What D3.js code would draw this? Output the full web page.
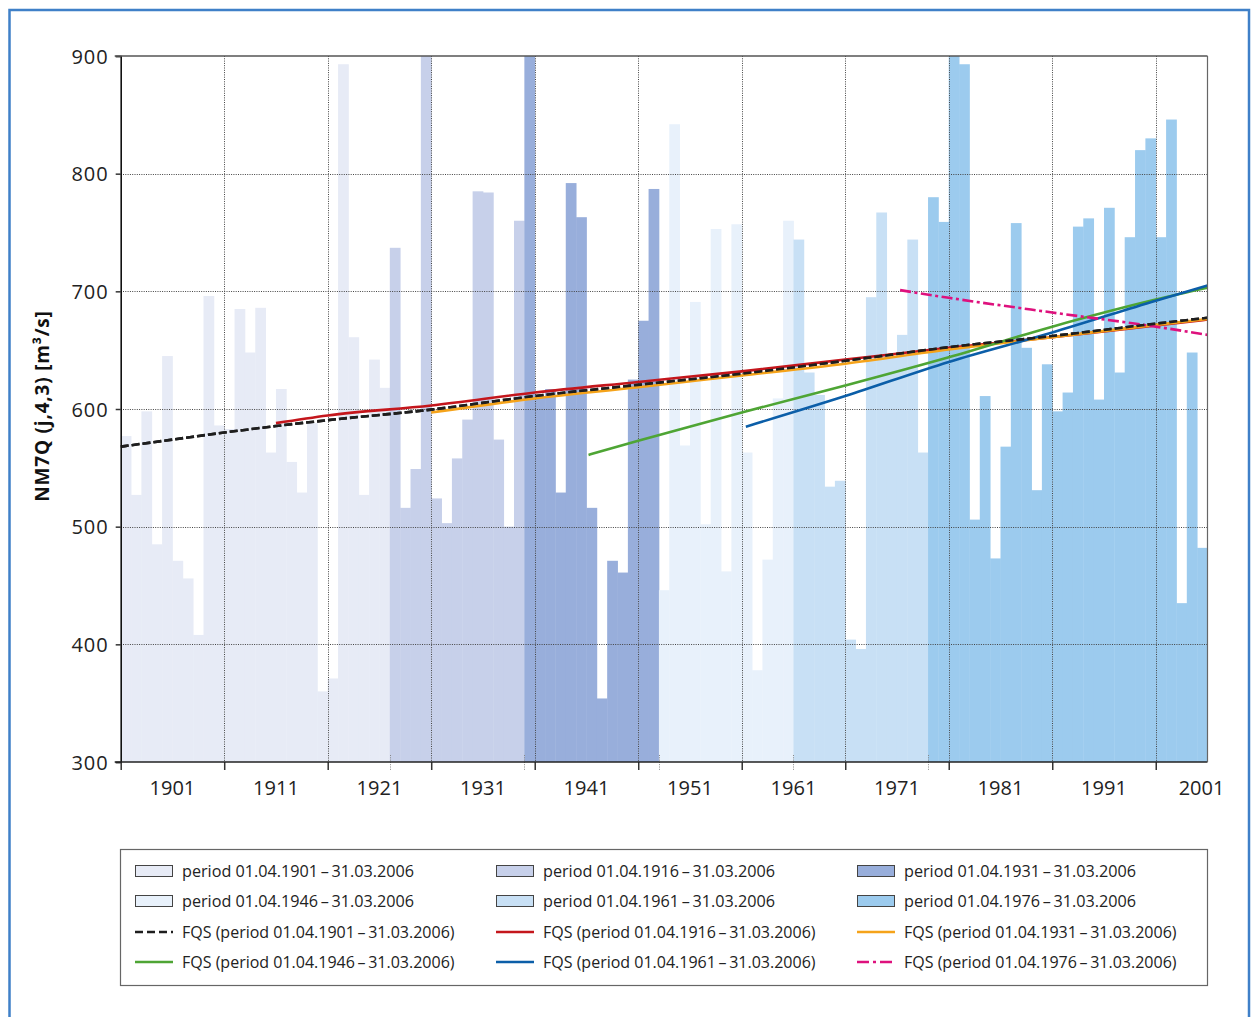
<!DOCTYPE html>
<html><head><meta charset="utf-8">
<script src="https://cdn.jsdelivr.net/npm/d3@7/dist/d3.min.js"></script>
<style>
body{margin:0;background:#fff;}
svg{display:block;font-family:"Open Sans",sans-serif;}
</style>
</head><body>
<svg id="chart" width="1258" height="1017"></svg>
<script>
// ---------------- DATA ----------------
const firstYear = 1901;
const lastYear = 2006;
// NM7Q(j,4,3) per hydrological year 1901..2005 [m³/s]
const nm7q = [
 577,527,598,485,645,471,456,408,696,586,
 583,685,648,686,563,617,555,529,588,360,
 371,893,661,527,642,618,737,516,549,905,
 524,503,558,591,785,784,574,500,760,905,
 611,617,529,792,763,516,354,471,461,625,
 675,787,446,842,569,691,502,753,462,757,
 563,378,472,609,760,744,631,612,534,539,
 404,396,695,767,645,663,744,563,780,759,
 905,893,506,611,473,568,758,652,531,638,
 598,614,755,762,608,771,631,746,820,830,
 746,846,435,648,482
];
const periodLabels = [
 "period 01.04.1901\u2009\u2013\u200931.03.2006",
 "period 01.04.1916\u2009\u2013\u200931.03.2006",
 "period 01.04.1931\u2009\u2013\u200931.03.2006",
 "period 01.04.1946\u2009\u2013\u200931.03.2006",
 "period 01.04.1961\u2009\u2013\u200931.03.2006",
 "period 01.04.1976\u2009\u2013\u200931.03.2006"
];
const periodColors = ["#e7ebf6","#c7d0ea","#98aedb","#e8f1fb","#c8e0f5","#9ccbee"];
// first year of each shaded block of bars, as drawn in the figure
const colorBlockStart = [1901,1927,1940,1953,1966,1979];

const fqsLabels = [
 "FQS (period 01.04.1901\u2009\u2013\u200931.03.2006)",
 "FQS (period 01.04.1916\u2009\u2013\u200931.03.2006)",
 "FQS (period 01.04.1931\u2009\u2013\u200931.03.2006)",
 "FQS (period 01.04.1946\u2009\u2013\u200931.03.2006)",
 "FQS (period 01.04.1961\u2009\u2013\u200931.03.2006)",
 "FQS (period 01.04.1976\u2009\u2013\u200931.03.2006)"
];
const fqsColors = ["#1e1e1e","#c4161c","#f5a31a","#4ea534","#0b5ea8","#de117d"];
const fqs1901 = [[1901,568],[1906,574],[1911,580],[1916,585.5],[1921,590.5],[1931,599.5],[1941,611],[1951,620.5],[1961,630],[1971,641],[1981,652.5],[1991,662],[2001,672.5],[2006,677.5]];
const fqs1916 = [[1916,588],[1921,594.5],[1931,603],[1941,614],[1951,623],[1961,632],[1971,642],[1981,652],[1991,661],[2001,671],[2006,676]];
const fqs1931 = [[1931,597],[1941,609],[1951,618.5],[1961,628.5],[1971,638.5],[1981,650.5],[1991,661],[2001,671.5],[2006,676.5]];
const fqs1946 = [[1946.2,561],[1951,573],[1961,597],[1971,620],[1981,644],[1991,670],[2001,693],[2006,703]];
const fqs1961 = [[1961.4,585],[1971,611],[1981,640],[1991,665],[2001,692],[2006,705]];
const fqs1976 = [[1976.3,701],[1981,694.5],[1991,682],[2001,670],[2006,663]];
const fqsSeries = [fqs1901,fqs1916,fqs1931,fqs1946,fqs1961,fqs1976];

const xTickYears = [1901,1911,1921,1931,1941,1951,1961,1971,1981,1991,2001];
const yTicks = [300,400,500,600,700,800,900];
const yTitle = "NM7Q (j,4,3) [m\u00b3/s]";

// ---------------- LAYOUT ----------------
const svg = d3.select("#chart");
const L = 120.7, R = 1207.5, T = 56, B = 762;
const x = d3.scaleLinear().domain([firstYear, lastYear]).range([L, R]);
const y = d3.scaleLinear().domain([300, 900]).range([B, T]);

// outer blue frame
svg.append("rect").attr("x",9.5).attr("y",10).attr("width",1239.5).attr("height",1040)
  .attr("fill","none").attr("stroke","#3f80c8").attr("stroke-width",2.5);

svg.append("clipPath").attr("id","plotclip").append("rect")
  .attr("x",L).attr("y",T).attr("width",R-L).attr("height",B-T);

const years = nm7q.map((v,i)=>firstYear+i);
function blockOf(yr){ let g=0; colorBlockStart.forEach((s,i)=>{ if(yr>=s) g=i; }); return g; }

// bars
svg.append("g").attr("clip-path","url(#plotclip)")
  .selectAll("rect").data(nm7q).join("rect")
  .attr("x",(d,i)=>x(years[i]))
  .attr("width",(d,i)=>x(years[i]+1)-x(years[i])+0.4)
  .attr("y",d=>y(d))
  .attr("height",d=>y(300)-y(d))
  .attr("fill",(d,i)=>periodColors[blockOf(years[i])]);

// grid
const grid = svg.append("g").attr("stroke","#444").attr("stroke-width",1).attr("stroke-dasharray","1,1.3");
grid.selectAll("line.h").data(yTicks.filter(t=>t>300&&t<900)).join("line")
  .attr("x1",L).attr("x2",R).attr("y1",d=>Math.round(y(d))+0.5).attr("y2",d=>Math.round(y(d))+0.5);
grid.selectAll("line.v").data(xTickYears.slice(1)).join("line")
  .attr("x1",d=>Math.round(x(d))+0.5).attr("x2",d=>Math.round(x(d))+0.5).attr("y1",T).attr("y2",B);
// short dotted marks at colour-block boundaries
grid.selectAll("line.b").data(colorBlockStart.slice(1)).join("line")
  .attr("x1",d=>Math.round(x(d))+0.5).attr("x2",d=>Math.round(x(d))+0.5).attr("y1",B-7).attr("y2",B+8)
  .attr("stroke","#888");

// FQS lines
const line = d3.line().x(d=>x(d[0])).y(d=>y(d[1])).curve(d3.curveMonotoneX);
fqsSeries.forEach((s,i)=>{
  const p = svg.append("path").datum(s).attr("d",line).attr("fill","none")
    .attr("stroke",fqsColors[i]).attr("stroke-width",2.6).attr("clip-path","url(#plotclip)");
  if(i===0) p.attr("stroke-dasharray","8,3");
  if(i===5) p.attr("stroke-dasharray","11,3.5,3,3.5");
});
// draw dashed black on top of red/orange as in figure
svg.append("path").datum(fqs1901).attr("d",line).attr("fill","none")
  .attr("stroke",fqsColors[0]).attr("stroke-width",2.6).attr("stroke-dasharray","8,3");

// axes
const yAxis = d3.axisLeft(y).tickValues(yTicks).tickSize(5).tickPadding(7);
const gy = svg.append("g").attr("transform",`translate(${L},0)`).call(yAxis);
gy.select(".domain").attr("stroke","#111").attr("stroke-width",1.6);
gy.selectAll(".tick line").attr("stroke","#333").attr("stroke-width",1.5);
gy.selectAll("text").attr("font-size",20).attr("fill","#222").attr("letter-spacing","1px")
  .attr("font-family","'Open Sans',sans-serif").attr("dy","0.36em");

const xAxis = d3.axisBottom(x).tickValues(xTickYears).tickSize(8).tickFormat("");
const gx = svg.append("g").attr("transform",`translate(0,${B})`).call(xAxis);
gx.select(".domain").remove();
gx.selectAll(".tick line").attr("stroke","#333").attr("stroke-width",1.5);
svg.append("line").attr("x1",L-6).attr("x2",R).attr("y1",B).attr("y2",B).attr("stroke","#222").attr("stroke-width",1.6);
svg.append("g").selectAll("text").data(xTickYears).join("text")
  .attr("x",d=>Math.min(x(d+5), R-6)).attr("y",B+33).attr("text-anchor","middle")
  .attr("font-size",20).attr("fill","#222").text(d=>d);

// frame top / right
svg.append("line").attr("x1",L-6).attr("x2",R).attr("y1",T).attr("y2",T).attr("stroke","#555").attr("stroke-width",1.6);
svg.append("line").attr("x1",R).attr("x2",R).attr("y1",T).attr("y2",B).attr("stroke","#666").attr("stroke-width",1.2);

// y title
svg.append("text").attr("transform","translate(49,406) rotate(-90)")
  .attr("text-anchor","middle").attr("font-size",19).attr("font-weight","bold")
  .attr("letter-spacing","0.8px").attr("fill","#111").text(yTitle);

// legend
svg.append("rect").attr("x",120.5).attr("y",849.5).attr("width",1087).attr("height",136)
  .attr("fill","#fff").attr("stroke","#666").attr("stroke-width",1.2);
const colX = [135, 496, 857];
const rowY = [871, 901, 932, 962];
const lg = svg.append("g");
periodLabels.forEach((lab,i)=>{
  const cx = colX[i%3], cy = rowY[Math.floor(i/3)];
  lg.append("rect").attr("x",cx+0.5).attr("y",cy-5.5).attr("width",37).attr("height",11)
    .attr("fill",periodColors[i]).attr("stroke","#444").attr("stroke-width",1);
  lg.append("text").attr("x",cx+47).attr("y",cy+5.5).attr("font-size",16.2).attr("fill","#222").text(lab);
});
fqsLabels.forEach((lab,i)=>{
  const cx = colX[i%3], cy = rowY[2+Math.floor(i/3)];
  const l = lg.append("line").attr("x1",cx).attr("x2",cx+38).attr("y1",cy).attr("y2",cy)
    .attr("stroke",fqsColors[i]).attr("stroke-width",2.6);
  if(i===0) l.attr("stroke-dasharray","8,4");
  if(i===5) l.attr("stroke-dasharray","12,4,3,4");
  lg.append("text").attr("x",cx+47).attr("y",cy+5.5).attr("font-size",16).attr("fill","#222").text(lab);
});
</script>
</body></html>
